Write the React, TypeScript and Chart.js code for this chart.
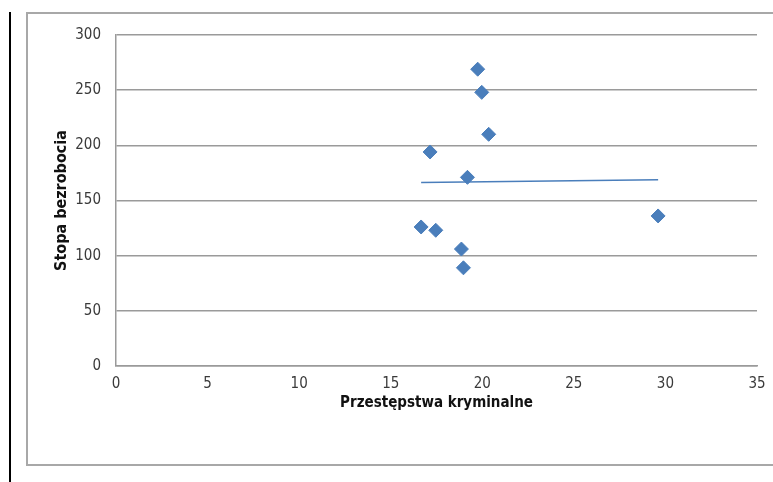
import React, { useEffect, useRef } from "react";
import { Chart, registerables } from "chart.js";

Chart.register(...registerables);

const crimeX: number[] = [16.66, 17.15, 17.46, 18.86, 18.97, 19.19, 19.75, 19.97, 20.35, 29.6];
const unemploymentY: number[] = [126, 194, 123, 106, 89, 171, 269, 248, 210, 136];
const trendX: number[] = [16.66, 29.6];
const trendY: number[] = [166.4, 168.8];
const xTicks: number[] = [0, 5, 10, 15, 20, 25, 30, 35];
const yTicks: number[] = [0, 50, 100, 150, 200, 250, 300];
const xTitle = "Przestępstwa kryminalne";
const yTitle = "Stopa bezrobocia";

const FONT = "'Liberation Sans Narrow', 'DejaVu Sans Condensed', 'Open Sans', sans-serif";
const BLUE = "#4a7ebb";
const GRID = "#9a9a9a";

export default function App() {
  const ref = useRef<HTMLCanvasElement | null>(null);

  useEffect(() => {
    document.body.style.margin = "0";
    const ctx = ref.current;
    if (!ctx) return;
    const chart = new Chart(ctx, {
      type: "scatter",
      data: {
        datasets: [
          {
            label: "Dane",
            data: crimeX.map((x, i) => ({ x, y: unemploymentY[i] })),
            pointStyle: "rectRot",
            pointRadius: 7,
            pointBackgroundColor: BLUE,
            pointBorderColor: BLUE,
            pointBorderWidth: 1,
            showLine: false,
          },
          {
            label: "Trend",
            data: trendX.map((x, i) => ({ x, y: trendY[i] })),
            showLine: true,
            pointRadius: 0,
            borderColor: BLUE,
            borderWidth: 1.5,
            fill: false,
          },
        ],
      },
      options: {
        responsive: false,
        animation: false,
        devicePixelRatio: 1,
        layout: { padding: { left: 0, top: 35, right: 16, bottom: 0 } },
        plugins: {
          legend: { display: false },
          tooltip: { enabled: false },
        },
        scales: {
          x: {
            type: "linear",
            min: 0,
            max: 35,
            afterBuildTicks: (s: any) => {
              s.ticks = xTicks.map((v) => ({ value: v }));
            },
            afterFit: (s: any) => {
              s.height = 116;
              s.paddingRight = 0;
              s.paddingLeft = 0;
            },
            grid: { display: false, drawTicks: false },
            border: { display: true, color: GRID, width: 1.5 },
            ticks: {
              padding: 9,
              color: "#3a3a3a",
              font: { family: FONT, size: 15 },
            },
            title: {
              display: true,
              text: xTitle,
              color: "#111",
              font: { family: FONT, size: 15, weight: "bold" },
              padding: { top: 0, bottom: 70 },
            },
          },
          y: {
            type: "linear",
            min: 0,
            max: 300,
            afterBuildTicks: (s: any) => {
              s.ticks = yTicks.map((v) => ({ value: v }));
            },
            afterFit: (s: any) => {
              s.width = 116;
            },
            grid: { color: GRID, lineWidth: 1.5, drawTicks: false },
            border: { display: true, color: GRID, width: 1.5 },
            ticks: {
              padding: 15,
              color: "#3a3a3a",
              font: { family: FONT, size: 15 },
            },
            title: {
              display: true,
              text: yTitle,
              color: "#111",
              font: { family: FONT, size: 16, weight: "bold" },
              padding: { top: 52, bottom: 0 },
            },
          },
        },
      },
    });
    return () => chart.destroy();
  }, []);

  return (
    <div style={{ position: "relative", width: 773, height: 482, overflow: "hidden", background: "#fff" }}>
      <div style={{ position: "absolute", left: 9, top: 12, width: 2, height: 470, background: "#000" }} />
      <div
        style={{
          position: "absolute",
          left: 26,
          top: 12,
          width: 800,
          height: 450,
          border: "2px solid #a8a8a8",
        }}
      />
      <canvas ref={ref} width={773} height={482} style={{ position: "absolute", left: 0, top: 0 }} />
    </div>
  );
}
